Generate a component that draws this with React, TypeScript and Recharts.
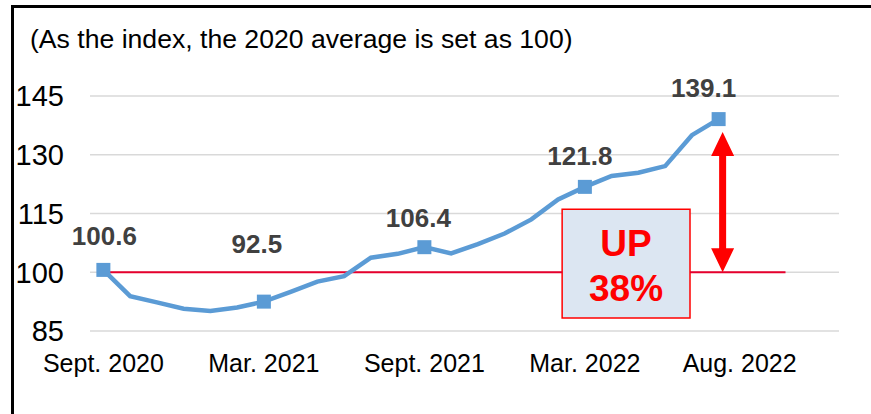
import React from 'react';
import {
  LineChart, Line, XAxis, YAxis, CartesianGrid, ReferenceLine, ReferenceArea, LabelList,
} from 'recharts';

const months = [
  'Sept. 2020', 'Oct. 2020', 'Nov. 2020', 'Dec. 2020', 'Jan. 2021', 'Feb. 2021',
  'Mar. 2021', 'Apr. 2021', 'May 2021', 'June 2021', 'July 2021', 'Aug. 2021',
  'Sept. 2021', 'Oct. 2021', 'Nov. 2021', 'Dec. 2021', 'Jan. 2022', 'Feb. 2022',
  'Mar. 2022', 'Apr. 2022', 'May 2022', 'June 2022', 'July 2022', 'Aug. 2022',
];

const indexValues = [
  100.6, 93.9, 92.3, 90.7, 90.1, 91.0,
  92.5, 95.0, 97.6, 99.0, 103.7, 104.7,
  106.4, 104.8, 107.2, 109.9, 113.5, 118.6,
  121.8, 124.6, 125.4, 127.1, 135.0, 139.1,
];

const markedMonths = ['Sept. 2020', 'Mar. 2021', 'Sept. 2021', 'Mar. 2022', 'Aug. 2022'];
const yTicks = [85, 100, 115, 130, 145];
const baseValue = 100;
const upText = ['UP', '38%'];

// label nudges (Excel labels were dragged by hand)
const labelNudge: Record<string, [number, number]> = {
  'Sept. 2020': [1, -25],
  'Mar. 2021': [-7, -49],
  'Sept. 2021': [-6, -20],
  'Mar. 2022': [-5, -22],
  'Aug. 2022': [-15, -22],
};

const data = months.map((m, i) => ({ idx: i, month: m, value: indexValues[i] }));
const markedIdx = markedMonths.map(m => months.indexOf(m));
const lastIdx = months.length - 1;

// annotation box, in axis units
const box = { x1: 17.15, x2: 21.93, y1: 88.3, y2: 116.1 };
const baseLineEnd = 25.5;

const FONT = '"Liberation Sans", Arial, sans-serif';
const BLUE = '#5b9bd5';
const RED_LINE = '#e6002d';

const SquareDot = (props: any) => {
  const { cx, cy, index } = props;
  if (!markedIdx.includes(index)) return <g key={index} />;
  return <rect key={index} x={cx - 7} y={cy - 7} width={14} height={14} fill={BLUE} />;
};

const ValueLabel = (props: any) => {
  const { x, y, value, index } = props;
  if (!markedIdx.includes(index)) return null;
  const [dx, dy] = labelNudge[months[index]] || [0, -22];
  return (
    <text x={x + dx} y={y + dy} textAnchor="middle" fontFamily={FONT} fontSize={26}
      fontWeight="bold" fill="#404040">
      {value.toFixed(1)}
    </text>
  );
};

const XTick = (props: any) => {
  const { x, y, payload } = props;
  const shift = payload.value === lastIdx ? 21 : 0;
  return (
    <text x={x + shift} y={y} dy="0.71em" textAnchor="middle" fontFamily={FONT} fontSize={25} fill="#000">
      {months[payload.value]}
    </text>
  );
};

const DoubleArrow = (props: any) => {
  const { x1, y1, y2 } = props;
  const x = x1 + 4;
  const bottom = Math.max(y1, y2);
  const top = Math.min(y1, y2) + 13;
  const head = 24, hw = 11.5, sw = 3.5;
  const d = [
    `M${x},${top}`, `L${x + hw},${top + head}`, `L${x + sw},${top + head}`,
    `L${x + sw},${bottom - head}`, `L${x + hw},${bottom - head}`, `L${x},${bottom}`,
    `L${x - hw},${bottom - head}`, `L${x - sw},${bottom - head}`, `L${x - sw},${top + head}`,
    `L${x - hw},${top + head}`, 'Z',
  ].join(' ');
  return <path d={d} fill="#ff0000" />;
};

const UpLabel = (props: any) => {
  const { viewBox } = props;
  const cx = viewBox.x + viewBox.width / 2;
  const cy = viewBox.y + viewBox.height / 2;
  return (
    <g fontFamily={FONT} fontSize={37} fontWeight="bold" fill="#ff0000" textAnchor="middle">
      <text x={cx} y={cy - 8}>{upText[0]}</text>
      <text x={cx} y={cy + 37}>{upText[1]}</text>
    </g>
  );
};

export default function App() {
  return (
    <div style={{ position: 'absolute', left: 0, top: 0, width: 871, height: 414, overflow: 'hidden', background: '#fff' }}>
      <div style={{
        position: 'absolute', left: 11, top: 5, width: 857, height: 406,
        borderTop: '3px solid #000', borderLeft: '3px solid #000',
      }} />
      <div style={{
        position: 'absolute', left: 30, top: 26, fontFamily: FONT, fontSize: 26.6,
        lineHeight: '27px', color: '#000', whiteSpace: 'nowrap',
      }}>
        (As the index, the 2020 average is set as 100)
      </div>
      <div style={{ position: 'absolute', left: 0, top: 0 }}>
        <LineChart width={871} height={414} data={data}
          margin={{ top: 96, right: 32, bottom: 33, left: 0 }}>
          <CartesianGrid vertical={false} stroke="#d9d9d9" strokeWidth={1.5} />
          <XAxis dataKey="idx" type="number" domain={[-0.5, 27.5]} ticks={markedIdx}
            axisLine={false} tickLine={false} tickSize={0} tickMargin={23} height={50}
            interval={0} tick={<XTick />} />
          <YAxis type="number" domain={[85, 145]} ticks={yTicks} axisLine={false} tickLine={false}
            tickSize={0} tickMargin={26} width={90}
            tick={{ fontFamily: FONT, fontSize: 29, fill: '#000' }} />
          <ReferenceArea x1={box.x1} x2={box.x2} y1={box.y1} y2={box.y2}
            fill="#dce6f2" fillOpacity={1} stroke="#ff0000" strokeWidth={1.5}
            label={<UpLabel />} />
          <ReferenceLine segment={[{ x: 0, y: baseValue }, { x: box.x1, y: baseValue }]}
            stroke={RED_LINE} strokeWidth={2} />
          <ReferenceLine segment={[{ x: box.x2, y: baseValue }, { x: baseLineEnd, y: baseValue }]}
            stroke={RED_LINE} strokeWidth={2} />
          <Line type="linear" dataKey="value" stroke={BLUE} strokeWidth={4.5}
            dot={<SquareDot />} activeDot={false} isAnimationActive={false}>
            <LabelList dataKey="value" content={<ValueLabel />} />
          </Line>
          <ReferenceLine segment={[{ x: lastIdx, y: baseValue }, { x: lastIdx, y: indexValues[lastIdx] }]}
            shape={<DoubleArrow />} />
        </LineChart>
      </div>
    </div>
  );
}
